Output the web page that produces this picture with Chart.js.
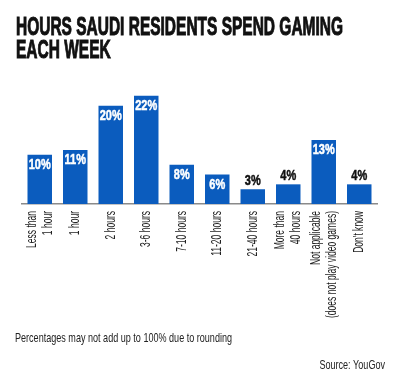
<!DOCTYPE html>
<html>
<head>
<meta charset="utf-8">
<script src="https://cdn.jsdelivr.net/npm/chart.js@4"></script>
<style>
  html, body { margin: 0; padding: 0; background: #fff; }
  #wrap { width: 400px; height: 391px; position: relative; }
</style>
</head>
<body>
<div id="wrap"><canvas id="myChart"></canvas></div>
<script>
const categories = [
    ['Less than', '1 hour'], '1 hour', '2 hours', '3-6 hours', '7-10 hours',
    '11-20 hours', '21-40 hours', ['More than', '40 hours'],
    ['Not applicable', '(does not play video games)'], "Don't know"
];
const shares = [10, 11, 20, 22, 8, 6, 3, 4, 13, 4];
const titleLines = ['HOURS SAUDI RESIDENTS SPEND GAMING', 'EACH WEEK'];
const note = 'Percentages may not add up to 100% due to rounding';
const source = 'Source: YouGov';

const face = "'Liberation Sans', 'Roboto', sans-serif";
const barBlue = '#0b5cbe';

// the original uses a condensed face, so text is squeezed horizontally
function squeezed(ctx, text, x, y, sx, align, stroke) {
    ctx.save();
    ctx.translate(x, y);
    ctx.scale(sx, 1);
    ctx.textAlign = align || 'left';
    ctx.fillText(text, 0, 0);
    if (stroke) {
        ctx.lineWidth = stroke;
        ctx.strokeStyle = ctx.fillStyle;
        ctx.strokeText(text, 0, 0);
    }
    ctx.restore();
}
function fitScale(ctx, text, width) {
    return width / ctx.measureText(text).width;
}

const textPlugin = {
    id: 'texts',
    afterDraw(chart) {
        const ctx = chart.ctx;
        ctx.save();
        ctx.fillStyle = '#111';
        ctx.textBaseline = 'alphabetic';
        ctx.font = 'bold 25px ' + face;
        const ts = fitScale(ctx, titleLines[0], 327);
        squeezed(ctx, titleLines[0], 16, 35, ts, 'left', 1);
        squeezed(ctx, titleLines[1], 16, 58, ts, 'left', 1);

        ctx.font = '13px ' + face;
        ctx.fillStyle = '#222';
        const ns = fitScale(ctx, note, 217);
        squeezed(ctx, note, 15, 342, ns);
        squeezed(ctx, source, 385, 369, ns, 'right');

        // category labels, rotated, at the positions of the x scale
        const xs = chart.scales.x;
        ctx.font = '14px ' + face;
        ctx.fillStyle = '#222';
        const ls = fitScale(ctx, '(does not play video games)', 107);
        ctx.textBaseline = 'middle';
        categories.forEach((cat, i) => {
            const lines = Array.isArray(cat) ? cat : [cat];
            const x = xs.getPixelForValue(i);
            lines.forEach((line, j) => {
                const off = (j - (lines.length - 1) / 2) * 16;
                ctx.save();
                ctx.translate(x + off, 211);
                ctx.rotate(-Math.PI / 2);
                ctx.scale(ls, 1);
                ctx.textAlign = 'right';
                ctx.fillText(line, 0, 0);
                ctx.restore();
            });
        });

        // value labels on the bars
        const meta = chart.getDatasetMeta(0);
        ctx.font = 'bold 15px ' + face;
        const vs = fitScale(ctx, '22%', 22);
        meta.data.forEach((bar, i) => {
            const v = shares[i];
            const inside = v >= 5;
            ctx.fillStyle = inside ? '#fff' : '#111';
            const y = inside ? bar.y + 10 : bar.y - 8;
            squeezed(ctx, v + '%', bar.x, y, vs, 'center', 0.5);
        });
        ctx.restore();
    }
};

new Chart(document.getElementById('myChart'), {
    type: 'bar',
    data: {
        labels: categories,
        datasets: [{
            data: shares,
            backgroundColor: barBlue,
            borderWidth: 0,
            categoryPercentage: 1,
            barPercentage: 0.69
        }]
    },
    options: {
        responsive: true,
        maintainAspectRatio: false,
        animation: false,
        layout: { padding: { top: 86, left: 22, right: 23, bottom: 0 } },
        plugins: {
            legend: { display: false },
            tooltip: { enabled: false }
        },
        scales: {
            x: {
                grid: { display: false, drawTicks: false },
                border: { display: true, color: '#8a8a8a', width: 1.5 },
                ticks: { display: false },
                afterFit(scale) { scale.height = 391 - 204; }
            },
            y: {
                display: false,
                min: 0,
                max: 24
            }
        }
    },
    plugins: [textPlugin]
});
</script>
</body>
</html>
